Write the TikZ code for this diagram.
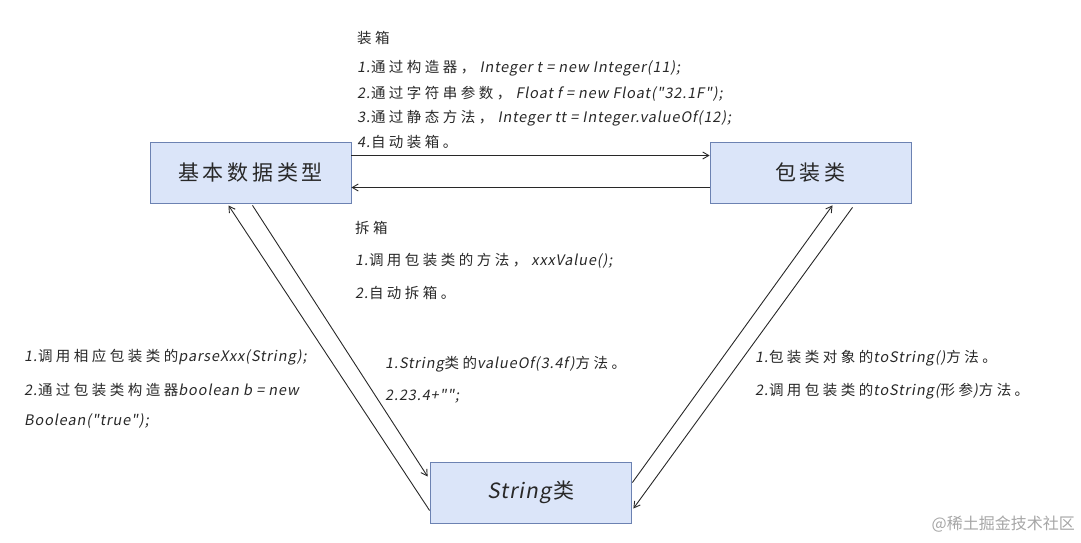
\documentclass[tikz,border=0pt]{standalone}
\usepackage{fontspec}
\setmainfont{Noto Sans CJK SC}[Ligatures=TeXOff,LetterSpace=24,ItalicFont=Noto Sans CJK SC,ItalicFeatures={FakeSlant=0.18,LetterSpace=6}]
\newfontfamily\boxfont{Noto Sans CJK SC}[Ligatures=TeXOff,LetterSpace=18,ItalicFont=Noto Sans CJK SC,ItalicFeatures={FakeSlant=0.18,LetterSpace=6}]
\newfontfamily\markfont{Noto Sans CJK SC}
\usetikzlibrary{arrows.meta,calc}
\definecolor{boxfill}{RGB}{219,229,249}
\definecolor{boxline}{RGB}{108,130,178}
\definecolor{inkc}{RGB}{40,40,40}
\begin{document}
\begin{tikzpicture}[x=1pt,y=-1pt,
  every node/.style={font=\fontsize{14.5}{17}\selectfont,text=inkc},
  typebox/.style={draw=boxline,thick,fill=boxfill,minimum width=201pt,minimum height=61pt,inner sep=0pt,font=\boxfont\fontsize{21}{24}\selectfont},
  note/.style={anchor=west,inner sep=0pt},
  link/.style={-{Straight Barb[length=6pt,width=7pt]},line width=0.9pt,inkc}]
\useasboundingbox (0,0) rectangle (1081,543);
% the three classes
\node[typebox] (basic) at (250.5,172.5) {基本数据类型};
\node[typebox] (wrap) at (810.5,172.5) {包装类};
\node[typebox] (str) at (530.5,492.5) {\textit{String}类};
% boxing / unboxing
\draw[link] ($(basic.east)+(0,-17)$) -- ($(wrap.west)+(0,-17)$);
\draw[link] ($(wrap.west)+(0,15)$) -- ($(basic.east)+(0,15)$);
% basic <-> String
\draw[link] ($(basic.south)+(2,2)$) -- ($(str.west)+(-2,-16)$);
\draw[link] ($(str.west)+(0,18)$) -- ($(basic.south)+(-22,2)$);
% wrapper <-> String
\draw[link] ($(wrap.south)+(42,4)$) -- ($(str.east)+(2,16)$);
\draw[link] ($(str.east)+(1,-10)$) -- ($(wrap.south)+(22,2)$);
% boxing notes
\node[note] (box0) at (357,38) {装箱};
\node[note] (box1) at (357,68) {\textit{1.}通过构造器，\textit{ Integer t = new Integer(11);}};
\node[note] (box2) at (357,94) {\textit{2.}通过字符串参数，\textit{ Float f = new Float("32.1F");}};
\node[note] (box3) at (357,118) {\textit{3.}通过静态方法，\textit{ Integer tt = Integer.valueOf(12);}};
\node[note] (box4) at (357,142) {\textit{4.}自动装箱。};
% unboxing notes
\node[note] (unbox0) at (355,228) {拆箱};
\node[note] (unbox1) at (355,261) {\textit{1.}调用包装类的方法，\textit{ xxxValue();}};
\node[note] (unbox2) at (355,293) {\textit{2.}自动拆箱。};
% String -> basic
\node[note] (parse1) at (24,357) {\textit{1.}调用相应包装类的\textit{parseXxx(String);}};
\node[note] (parse2) at (24,390) {\textit{2.}通过包装类构造器\textit{boolean b = new}};
\node[note] (parse3) at (24,421) {\textit{Boolean("true");}};
% basic -> String
\node[note] (conv1) at (385,364) {\textit{1.String}类的\textit{valueOf(3.4f)}方法。};
\node[note] (conv2) at (385,396) {\textit{2.23.4+"";}};
% wrapper -> String
\node[note] (tostr1) at (755,358) {\textit{1.}包装类对象的\textit{toString()}方法。};
\node[note] (tostr2) at (755,391) {\textit{2.}调用包装类的\textit{toString(}形参\textit{)}方法。};
% watermark
\node[anchor=east,inner sep=0pt,text=black!35,font=\markfont\fontsize{16}{18}\selectfont] (mark) at (1075,524) {@稀土掘金技术社区};
\end{tikzpicture}
\end{document}
